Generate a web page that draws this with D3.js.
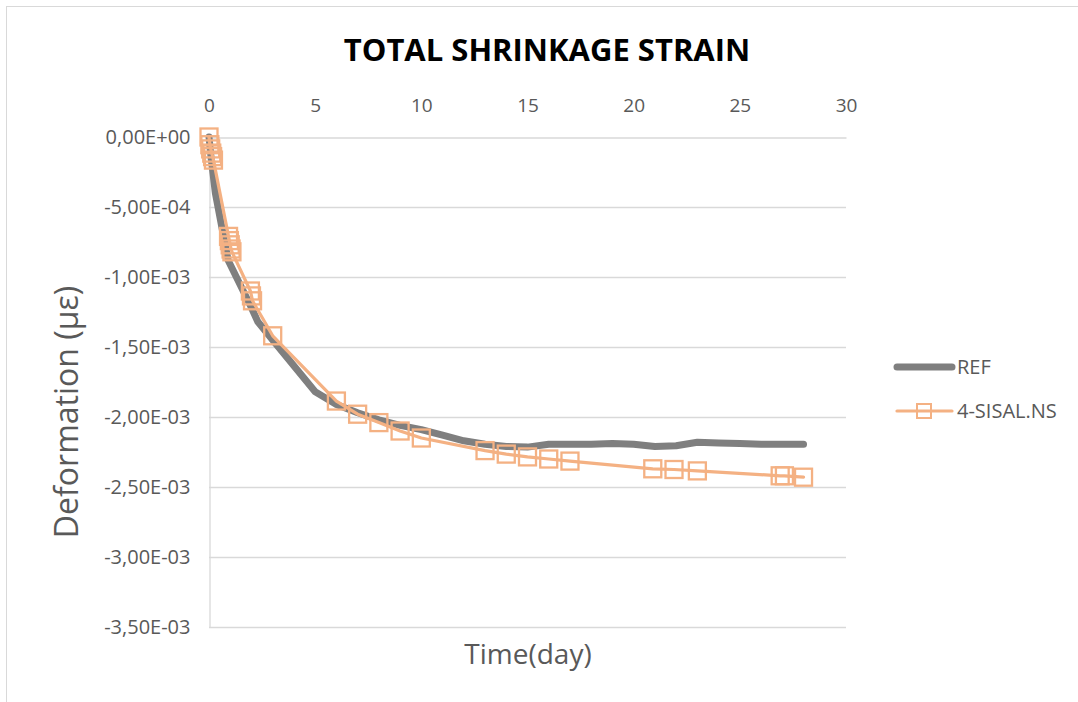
<!DOCTYPE html>
<html lang="en">
<head>
    <meta charset="utf-8">
    <script src="https://cdn.jsdelivr.net/npm/d3@7"></script>
    <style>
        body { margin: 0; background: #fff; }
        text { font-family: "Open Sans", sans-serif; }
    </style>
</head>
<body>
<script>

    // REF series (days, strain)
    let refDays = [0, 0.1, 0.3, 0.9, 2, 2.3, 3, 5, 6, 7, 8, 9, 10, 11, 12, 13, 14, 15, 16, 17, 18, 19, 20, 21, 22, 23, 24, 25, 26, 27, 28];
    let refVals = [0, -0.15e-3, -0.4e-3, -0.88e-3, -1.22e-3, -1.32e-3, -1.45e-3, -1.82e-3, -1.91e-3, -1.97e-3, -2.02e-3, -2.06e-3, -2.09e-3, -2.13e-3, -2.17e-3, -2.195e-3, -2.21e-3, -2.215e-3, -2.195e-3, -2.195e-3, -2.195e-3, -2.19e-3, -2.195e-3, -2.21e-3, -2.205e-3, -2.18e-3, -2.185e-3, -2.19e-3, -2.195e-3, -2.195e-3, -2.195e-3];

    // 4-SISAL.NS series
    let sisDays = [0, 0.04, 0.08, 0.13, 0.17, 0.21, 0.92, 0.96, 1.0, 1.04, 1.08, 1.95, 2.0, 2.05, 3, 6, 7, 8, 9, 10, 13, 14, 15, 16, 17, 20.9, 21.9, 23, 26.9, 27.1, 28];
    let sisVals = [0, -0.055e-3, -0.085e-3, -0.115e-3, -0.14e-3, -0.165e-3, -0.71e-3, -0.74e-3, -0.77e-3, -0.8e-3, -0.82e-3, -1.1e-3, -1.135e-3, -1.17e-3, -1.42e-3, -1.886e-3, -1.98e-3, -2.04e-3, -2.1e-3, -2.15e-3, -2.24e-3, -2.265e-3, -2.285e-3, -2.3e-3, -2.315e-3, -2.37e-3, -2.375e-3, -2.385e-3, -2.42e-3, -2.42e-3, -2.43e-3];

    let xTicks = [0, 5, 10, 15, 20, 25, 30];
    let yTicks = [0, -0.5e-3, -1e-3, -1.5e-3, -2e-3, -2.5e-3, -3e-3, -3.5e-3];
    let seriesNames = ["REF", "4-SISAL.NS"];

    let w = 1078, h = 702;
    let svg = d3.select("body").append("svg")
        .attr("width", w)
        .attr("height", h);

    // chart border
    svg.append("rect")
        .attr("x", 6.5).attr("y", 6.5)
        .attr("width", 1100).attr("height", 720)
        .attr("fill", "none")
        .attr("stroke", "#d9d9d9");

    let x = d3.scaleLinear().domain([0, 30]).range([209, 846]);
    let y = d3.scaleLinear().domain([0, -3.5e-3]).range([137, 627]);

    // gridlines
    svg.append("g").selectAll("line")
        .data(yTicks.slice(1))
        .enter().append("line")
        .attr("x1", x(0)).attr("x2", x(30))
        .attr("y1", d => y(d) + 0.5).attr("y2", d => y(d) + 0.5)
        .attr("stroke", "#d9d9d9")
        .attr("stroke-width", 1.3);

    // axes
    let xAxis = svg.append("g")
        .attr("transform", "translate(0," + (y(0) + 0.5) + ")")
        .call(d3.axisTop(x).tickValues(xTicks).tickSize(0).tickPadding(26).tickFormat(d3.format("d")));
    xAxis.select(".domain").attr("stroke", "#d9d9d9").attr("stroke-width", 1.3);
    xAxis.selectAll("text").attr("fill", "#595959").style("font-size", "19px");

    // Excel style scientific labels, comma decimal
    let fmt = d => {
        if (d === 0) return "0,00E+00";
        let e = Math.floor(Math.log10(Math.abs(d)) + 1e-9);
        let m = d / Math.pow(10, e);
        let sign = e < 0 ? "-" : "+";
        return m.toFixed(2).replace(".", ",") + "E" + sign + String(Math.abs(e)).padStart(2, "0");
    };

    let yAxis = svg.append("g")
        .attr("transform", "translate(" + (x(0) + 0.5) + ",0)")
        .call(d3.axisLeft(y).tickValues(yTicks).tickSize(0).tickPadding(19).tickFormat(fmt));
    yAxis.select(".domain").attr("stroke", "#d9d9d9").attr("stroke-width", 1.3);
    yAxis.selectAll("text").attr("fill", "#595959").style("font-size", "20px");

    // lines
    let line = d3.line().x(d => x(d[0])).y(d => y(d[1]));
    let refData = refDays.map((d, i) => [d, refVals[i]]);
    let sisData = sisDays.map((d, i) => [d, sisVals[i]]);

    svg.append("path")
        .datum(refData)
        .attr("d", line)
        .attr("fill", "none")
        .attr("stroke", "#7f7f7f")
        .attr("stroke-width", 7)
        .attr("stroke-linejoin", "round")
        .attr("stroke-linecap", "round");

    svg.append("path")
        .datum(sisData)
        .attr("d", line)
        .attr("fill", "none")
        .attr("stroke", "#f4b183")
        .attr("stroke-width", 3.2)
        .attr("stroke-linejoin", "round")
        .attr("stroke-linecap", "round");

    svg.append("g").selectAll("rect")
        .data(sisData)
        .enter().append("rect")
        .attr("x", d => x(d[0]) - 8.5)
        .attr("y", d => y(d[1]) - 8.5)
        .attr("width", 17).attr("height", 17)
        .attr("fill", "none")
        .attr("stroke", "#f4b183")
        .attr("stroke-width", 2.3);

    // title
    svg.append("text")
        .attr("x", 547).attr("y", 61)
        .attr("text-anchor", "middle")
        .style("font-size", "31px")
        .style("font-weight", "bold")
        .attr("fill", "#000")
        .text("TOTAL SHRINKAGE STRAIN");

    // axis titles
    svg.append("text")
        .attr("transform", "translate(78,412) rotate(-90)")
        .attr("text-anchor", "middle")
        .style("font-size", "32px")
        .attr("fill", "#595959")
        .text("Deformation (με)");

    svg.append("text")
        .attr("x", 528).attr("y", 664)
        .attr("text-anchor", "middle")
        .style("font-size", "28px")
        .attr("fill", "#595959")
        .text("Time(day)");

    // legend
    let leg = svg.append("g").selectAll("g")
        .data(seriesNames)
        .enter().append("g")
        .attr("transform", (d, i) => "translate(897," + (367 + i * 44) + ")");

    leg.append("line")
        .attr("x1", 0).attr("x2", 55)
        .attr("stroke", (d, i) => i === 0 ? "#7f7f7f" : "#f4b183")
        .attr("stroke-width", (d, i) => i === 0 ? 7 : 3.2)
        .attr("stroke-linecap", "round");

    leg.filter((d, i) => i === 1).append("rect")
        .attr("x", 20).attr("y", -7)
        .attr("width", 14).attr("height", 14)
        .attr("fill", "none")
        .attr("stroke", "#f4b183")
        .attr("stroke-width", 2);

    leg.append("text")
        .attr("x", 60).attr("y", 7)
        .style("font-size", "20px")
        .attr("fill", "#595959")
        .text(d => d);

</script>
</body>
</html>
